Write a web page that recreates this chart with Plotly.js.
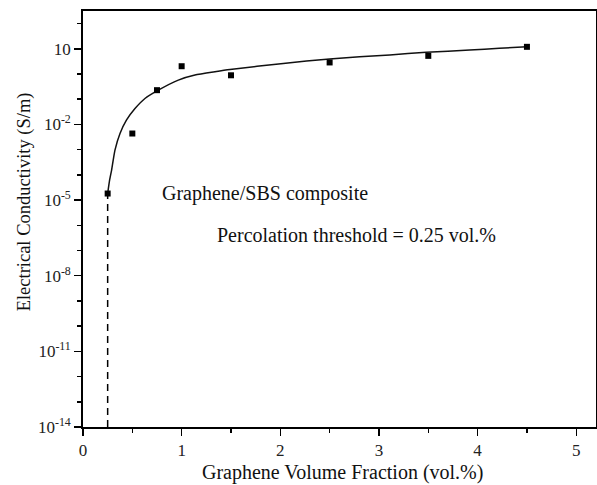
<!DOCTYPE html>
<html>
<head>
<meta charset="utf-8">
<script src="https://cdn.plot.ly/plotly-3.0.1.min.js"></script>
<style>
  html, body { margin: 0; padding: 0; background: #fff; }
  #chart { width: 597px; height: 485px; }
</style>
</head>
<body>
<div id="chart"></div>
<script>
// Measured conductivity of graphene/SBS composites
const fraction = [0.25, 0.5, 0.75, 1.0, 1.5, 2.5, 3.5, 4.5];          // vol.%
const conductivity = [1.82e-5, 4.37e-3, 0.229, 2.04, 0.891, 2.88, 5.25, 12.0]; // S/m

// Fitted percolation curve
const fitFraction = [0.25, 0.27, 0.29, 0.324, 0.375, 0.44, 0.527, 0.628, 0.763, 0.966,
                     1.135, 1.337, 1.49, 2.03, 2.5, 3.11, 3.48, 3.92, 4.22, 4.5];
const fitConductivity = [1.82e-5, 6.31e-5, 1.55e-4, 9.55e-4, 4.37e-3, 1.48e-2, 4.27e-2,
                         0.107, 0.229, 0.575, 0.912, 1.23, 1.51, 2.63, 3.98, 5.75,
                         7.24, 8.91, 10.5, 12.0];

// Percolation threshold marker
const threshold = 0.25;
const thresholdY = [1e-14, 1.82e-5];

// Axis ticks
const xTicks = [0, 1, 2, 3, 4, 5];
const xMinor = [0.5, 1.5, 2.5, 3.5, 4.5];
const yTicks = [10, 1e-2, 1e-5, 1e-8, 1e-11, 1e-14];
const yTickText = ['10', '10<sup>-2</sup>', '10<sup>-5</sup>', '10<sup>-8</sup>',
                   '10<sup>-11</sup>', '10<sup>-14</sup>'];
const yMinor = [100, 1, 0.1, 1e-3, 1e-4, 1e-6, 1e-7, 1e-9, 1e-10, 1e-12, 1e-13];

const serif = '"Liberation Serif", "Times New Roman", serif';

const traces = [
  {
    x: [threshold, threshold], y: thresholdY,
    mode: 'lines', type: 'scatter',
    line: { color: '#000', width: 1.5, dash: '7px,5px' },
    hoverinfo: 'skip'
  },
  {
    x: fitFraction, y: fitConductivity,
    mode: 'lines', type: 'scatter',
    line: { color: '#111', width: 1.5, shape: 'spline', smoothing: 0.5 }
  },
  {
    x: fraction, y: conductivity,
    mode: 'markers', type: 'scatter',
    marker: { symbol: 'square', size: 6, color: '#000' }
  }
];

const layout = {
  width: 597, height: 485,
  margin: { l: 83, r: 1, t: 11, b: 58 },
  paper_bgcolor: '#fff', plot_bgcolor: '#fff',
  showlegend: false,
  font: { family: serif, color: '#000', size: 17 },
  xaxis: {
    range: [0, 5.2],
    tickmode: 'array', tickvals: xTicks,
    ticks: 'outside', ticklen: 7, tickwidth: 1.5, tickcolor: '#000',
    minor: { tickmode: 'array', tickvals: xMinor, ticks: 'outside', ticklen: 4, tickwidth: 1.5, tickcolor: '#000' },
    showline: true, linewidth: 1.8, linecolor: '#000', mirror: true,
    showgrid: false, zeroline: false,
    tickfont: { family: serif, size: 17, color: '#222' }
  },
  yaxis: {
    type: 'log', range: [-14, 2.5],
    tickmode: 'array', tickvals: yTicks, ticktext: yTickText,
    ticks: 'outside', ticklen: 7, tickwidth: 1.5, tickcolor: '#000',
    minor: { tickmode: 'array', tickvals: yMinor, ticks: 'outside', ticklen: 4, tickwidth: 1.5, tickcolor: '#000' },
    showline: true, linewidth: 1.8, linecolor: '#000', mirror: true,
    showgrid: false, zeroline: false,
    tickfont: { family: serif, size: 17, color: '#222' }
  },
  annotations: [
    {
      text: 'Graphene Volume Fraction (vol.%)',
      xref: 'paper', yref: 'paper', x: 0.505, y: -0.11,
      xanchor: 'center', yanchor: 'middle', showarrow: false,
      font: { family: serif, size: 20, color: '#111' }
    },
    {
      text: 'Electrical Conductivity (S/m)',
      xref: 'paper', yref: 'paper', x: -0.115, y: 0.54,
      xanchor: 'center', yanchor: 'middle', textangle: -90, showarrow: false,
      font: { family: serif, size: 18.5, color: '#111' }
    },
    {
      text: 'Graphene/SBS composite',
      xref: 'x', yref: 'y', x: 0.78, y: -4.73,
      xanchor: 'left', yanchor: 'middle', showarrow: false,
      font: { family: serif, size: 20, color: '#111' }
    },
    {
      text: 'Percolation threshold = 0.25 vol.%',
      xref: 'x', yref: 'y', x: 1.337, y: -6.39,
      xanchor: 'left', yanchor: 'middle', showarrow: false,
      font: { family: serif, size: 20, color: '#111' }
    }
  ]
};

Plotly.newPlot('chart', traces, layout, { displayModeBar: false, staticPlot: true });
</script>
</body>
</html>
